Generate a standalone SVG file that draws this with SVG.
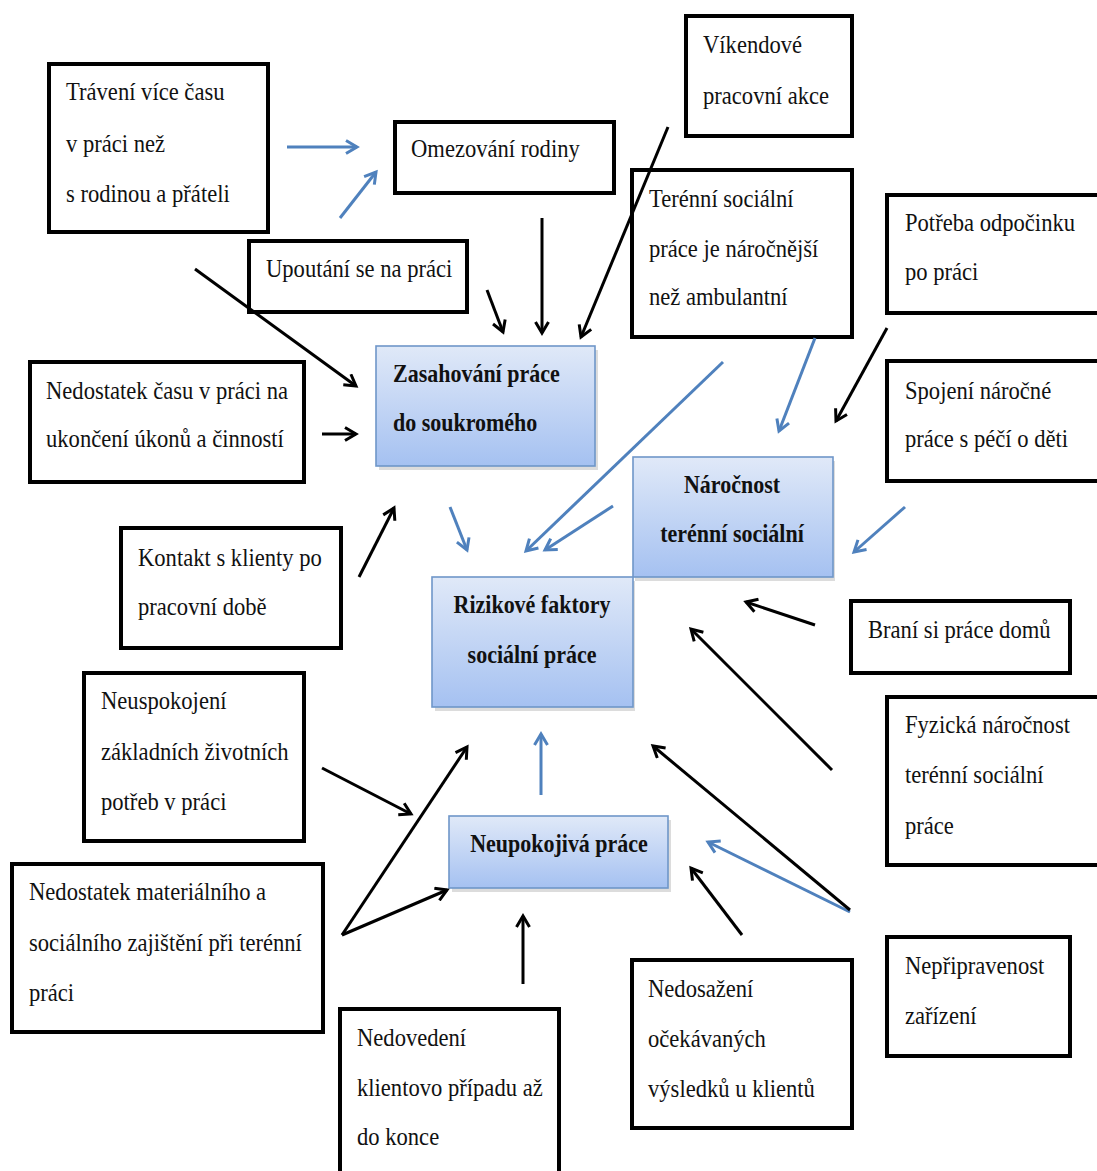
<svg xmlns="http://www.w3.org/2000/svg" width="1097" height="1171" viewBox="0 0 1097 1171">
  <style>
    .box { fill: #ffffff; stroke: #000000; stroke-width: 4; }
    .hub { fill: url(#hubFill); stroke: #6f96c9; stroke-width: 1.6; }
    .hubShadow { fill: #9a9a9a; opacity: 0.35; }
    .t { font-family: "Liberation Serif", "Times New Roman", serif; font-size: 22.6px; fill: #111111; }
    .tb { font-family: "Liberation Serif", "Times New Roman", serif; font-size: 22px; font-weight: bold; fill: #111111; }
    .mid { text-anchor: middle; }
    .k { fill: none; stroke: #000000; stroke-width: 3; marker-end: url(#headBlack); }
    .b { fill: none; stroke: #4f81bd; stroke-width: 3; marker-end: url(#headBlue); }
  </style>
  <defs>
    <linearGradient id="hubFill" x1="0" y1="0" x2="0" y2="1">
      <stop offset="0" stop-color="#e0e9f8"/>
      <stop offset="1" stop-color="#a5c1f1"/>
    </linearGradient>
    <marker id="headBlack" viewBox="0 0 16 16" refX="13" refY="8" markerWidth="16" markerHeight="16" markerUnits="userSpaceOnUse" orient="auto">
      <path d="M2,1.5 L13,8 L2,14.5" fill="none" stroke="#000000" stroke-width="3"/>
    </marker>
    <marker id="headBlue" viewBox="0 0 16 16" refX="13" refY="8" markerWidth="16" markerHeight="16" markerUnits="userSpaceOnUse" orient="auto">
      <path d="M2,1.5 L13,8 L2,14.5" fill="none" stroke="#4f81bd" stroke-width="3"/>
    </marker>
  </defs>

  <rect width="1097" height="1171" fill="#ffffff"/>

  <!-- cause boxes -->
  <g id="n-traveni">
    <rect class="box" x="49" y="64" width="219" height="168"/>
    <text class="t" transform="translate(66 100) scale(1 1.15)">Trávení více času</text>
    <text class="t" transform="translate(66 152) scale(1 1.15)">v práci než</text>
    <text class="t" transform="translate(66 202) scale(1 1.15)">s rodinou a přáteli</text>
  </g>
  <g id="n-omezovani">
    <rect class="box" x="395" y="122" width="219" height="71"/>
    <text class="t" transform="translate(411 157) scale(1 1.15)">Omezování rodiny</text>
  </g>
  <g id="n-vikendove">
    <rect class="box" x="686" y="16" width="166" height="120"/>
    <text class="t" transform="translate(703 53) scale(1 1.15)">Víkendové</text>
    <text class="t" transform="translate(703 104) scale(1 1.15)">pracovní akce</text>
  </g>
  <g id="n-upoutani">
    <rect class="box" x="249" y="241" width="218" height="71"/>
    <text class="t" transform="translate(266 277) scale(1 1.15)">Upoutání se na práci</text>
  </g>
  <g id="n-terenni">
    <rect class="box" x="632" y="170" width="220" height="167"/>
    <text class="t" transform="translate(649 207) scale(1 1.15)">Terénní sociální</text>
    <text class="t" transform="translate(649 257) scale(1 1.15)">práce je náročnější</text>
    <text class="t" transform="translate(649 305) scale(1 1.15)">než ambulantní</text>
  </g>
  <g id="n-potreba">
    <rect class="box" x="887" y="195" width="230" height="118"/>
    <text class="t" transform="translate(905 231) scale(1 1.15)">Potřeba odpočinku</text>
    <text class="t" transform="translate(905 280) scale(1 1.15)">po práci</text>
  </g>
  <g id="n-spojeni">
    <rect class="box" x="887" y="361" width="230" height="120"/>
    <text class="t" transform="translate(905 399) scale(1 1.15)">Spojení náročné</text>
    <text class="t" transform="translate(905 447) scale(1 1.15)">práce s péčí o děti</text>
  </g>
  <g id="n-nedostatek-casu">
    <rect class="box" x="30" y="362" width="274" height="120"/>
    <text class="t" transform="translate(46 399) scale(1 1.15)">Nedostatek času v práci na</text>
    <text class="t" transform="translate(46 447) scale(1 1.15)">ukončení úkonů a činností</text>
  </g>
  <g id="n-kontakt">
    <rect class="box" x="121" y="528" width="220" height="120"/>
    <text class="t" transform="translate(138 566) scale(1 1.15)">Kontakt s klienty po</text>
    <text class="t" transform="translate(138 615) scale(1 1.15)">pracovní době</text>
  </g>
  <g id="n-brani">
    <rect class="box" x="851" y="601" width="219" height="72"/>
    <text class="t" transform="translate(868 638) scale(1 1.15)">Braní si práce domů</text>
  </g>
  <g id="n-fyzicka">
    <rect class="box" x="887" y="697" width="230" height="168"/>
    <text class="t" transform="translate(905 733) scale(1 1.15)">Fyzická náročnost</text>
    <text class="t" transform="translate(905 783) scale(1 1.15)">terénní sociální</text>
    <text class="t" transform="translate(905 834) scale(1 1.15)">práce</text>
  </g>
  <g id="n-neuspokojeni">
    <rect class="box" x="84" y="673" width="220" height="168"/>
    <text class="t" transform="translate(101 709) scale(1 1.15)">Neuspokojení</text>
    <text class="t" transform="translate(101 760) scale(1 1.15)">základních životních</text>
    <text class="t" transform="translate(101 810) scale(1 1.15)">potřeb v práci</text>
  </g>
  <g id="n-material">
    <rect class="box" x="12" y="864" width="311" height="168"/>
    <text class="t" transform="translate(29 900) scale(1 1.15)">Nedostatek materiálního a</text>
    <text class="t" transform="translate(29 951) scale(1 1.15)">sociálního zajištění při terénní</text>
    <text class="t" transform="translate(29 1001) scale(1 1.15)">práci</text>
  </g>
  <g id="n-nedovedeni">
    <rect class="box" x="340" y="1009" width="219" height="180"/>
    <text class="t" transform="translate(357 1046) scale(1 1.15)">Nedovedení</text>
    <text class="t" transform="translate(357 1096) scale(1 1.15)">klientovo případu až</text>
    <text class="t" transform="translate(357 1145) scale(1 1.15)">do konce</text>
  </g>
  <g id="n-nedosazeni">
    <rect class="box" x="632" y="960" width="220" height="168"/>
    <text class="t" transform="translate(648 997) scale(1 1.15)">Nedosažení</text>
    <text class="t" transform="translate(648 1047) scale(1 1.15)">očekávaných</text>
    <text class="t" transform="translate(648 1097) scale(1 1.15)">výsledků u klientů</text>
  </g>
  <g id="n-nepripravenost">
    <rect class="box" x="887" y="937" width="183" height="119"/>
    <text class="t" transform="translate(905 974) scale(1 1.15)">Nepřipravenost</text>
    <text class="t" transform="translate(905 1024) scale(1 1.15)">zařízení</text>
  </g>

  <!-- hub nodes -->
  <g id="n-zasahovani">
    <rect class="hubShadow" x="379" y="350" width="219" height="120"/>
    <rect class="hub" x="376" y="346" width="219" height="120"/>
    <text class="tb" transform="translate(393 382) scale(1 1.15)">Zasahování práce</text>
    <text class="tb" transform="translate(393 431) scale(1 1.15)">do soukromého</text>
  </g>
  <g id="n-narocnost">
    <rect class="hubShadow" x="635" y="461" width="200" height="120"/>
    <rect class="hub" x="633" y="457" width="200" height="120"/>
    <text class="tb mid" transform="translate(732 493) scale(1 1.15)">Náročnost</text>
    <text class="tb mid" transform="translate(732 542) scale(1 1.15)">terénní sociální</text>
  </g>
  <g id="n-rizikove">
    <rect class="hubShadow" x="435" y="581" width="200" height="130"/>
    <rect class="hub" x="432" y="577" width="201" height="130"/>
    <text class="tb mid" transform="translate(532 613) scale(1 1.15)">Rizikové faktory</text>
    <text class="tb mid" transform="translate(532 663) scale(1 1.15)">sociální práce</text>
  </g>
  <g id="n-neupokojiva">
    <rect class="hubShadow" x="452" y="820" width="219" height="72"/>
    <rect class="hub" x="449" y="816" width="219" height="72"/>
    <text class="tb mid" transform="translate(559 852) scale(1 1.15)">Neupokojivá práce</text>
  </g>

  <!-- connectors, drawn over the boxes they cross -->
  <g id="connectors">
    <!-- blue links -->
    <line class="b" x1="287" y1="147" x2="357" y2="147"/>
    <line class="b" x1="340" y1="218" x2="376" y2="172"/>
    <line class="b" x1="815" y1="338" x2="779" y2="431"/>
    <line class="b" x1="723" y1="362" x2="526" y2="551"/>
    <line class="b" x1="613" y1="506" x2="545" y2="550"/>
    <line class="b" x1="450" y1="507" x2="467" y2="550"/>
    <line class="b" x1="905" y1="507" x2="854" y2="552"/>
    <line class="b" x1="541" y1="795" x2="541" y2="734"/>
    <line class="b" x1="850" y1="912" x2="708" y2="842"/>
    <!-- black links -->
    <line class="k" x1="195" y1="269" x2="356" y2="386"/>
    <line class="k" x1="487" y1="290" x2="503" y2="332"/>
    <line class="k" x1="542" y1="218" x2="542" y2="333"/>
    <line class="k" x1="668" y1="127" x2="581" y2="337"/>
    <line class="k" x1="887" y1="328" x2="836" y2="421"/>
    <line class="k" x1="322" y1="434" x2="356" y2="434"/>
    <line class="k" x1="359" y1="577" x2="394" y2="508"/>
    <line class="k" x1="815" y1="625" x2="746" y2="602"/>
    <line class="k" x1="832" y1="770" x2="691" y2="629"/>
    <line class="k" x1="850" y1="910" x2="653" y2="746"/>
    <line class="k" x1="742" y1="935" x2="691" y2="868"/>
    <line class="k" x1="523" y1="984" x2="523" y2="916"/>
    <line class="k" x1="322" y1="768" x2="411" y2="814"/>
    <line class="k" x1="342" y1="935" x2="467" y2="747"/>
    <line class="k" x1="342" y1="935" x2="447" y2="890"/>
  </g>
</svg>
